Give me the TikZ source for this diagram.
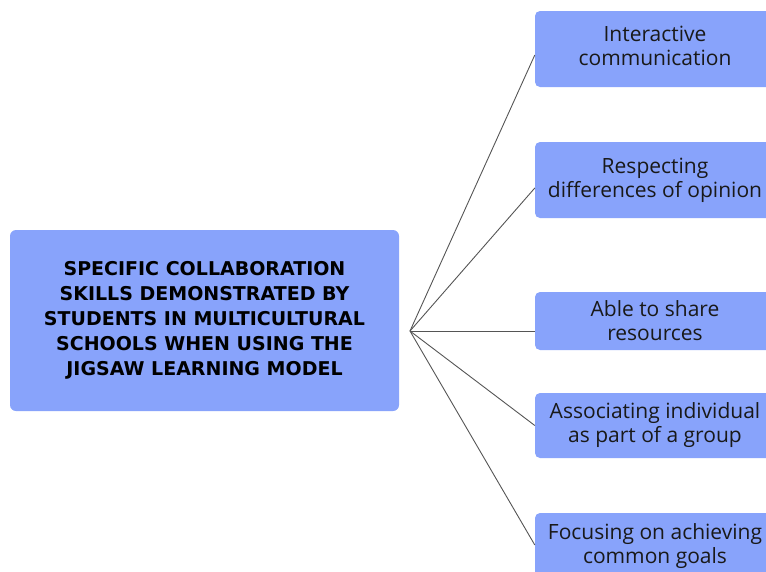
\documentclass[tikz,border=0pt]{standalone}
\usepackage{fontspec}
\setmainfont{Open Sans}
\newfontfamily\titlefont{DejaVu Sans}
\definecolor{boxblue}{HTML}{88A3FB}
\definecolor{linegray}{HTML}{555555}
\begin{document}
\begin{tikzpicture}[x=1pt,y=-1pt,
  skillbox/.style={fill=boxblue, rounded corners=5pt, inner sep=0pt,
    minimum width=240pt, align=center, font=\fontsize{21}{24}\selectfont, text=black!90},
  mainbox/.style={fill=boxblue, rounded corners=6pt, inner sep=0pt,
    minimum width=389pt, minimum height=181pt, align=center,
    font=\titlefont\fontsize{19}{25}\selectfont\bfseries, text=black},
  conn/.style={draw=linegray, line width=0.9pt}]
\useasboundingbox (0,0) rectangle (766,571);
\clip (0,0) rectangle (766,571);
\node[mainbox] (main) at (204.5,320.5) {SPECIFIC COLLABORATION\\SKILLS DEMONSTRATED BY\\STUDENTS IN MULTICULTURAL\\SCHOOLS WHEN USING THE\\JIGSAW LEARNING MODEL};
\coordinate (hub) at (410,331);
\node[skillbox, minimum height=76pt] (b1) at (655,49) {\raisebox{7pt}{\begin{tabular}{@{}c@{}}Interactive\\communication\end{tabular}}};
\node[skillbox, minimum height=76pt] (b2) at (655,180) {Respecting\\differences of opinion};
\node[skillbox, minimum height=58pt] (b3) at (655,321) {Able to share\\resources};
\node[skillbox, minimum height=65pt] (b4) at (655,425.5) {Associating individual\\as part of a group};
\node[skillbox, minimum height=66pt] (b5) at (655,546) {Focusing on achieving\\common goals};
\draw[conn] (hub) -- ([yshift=-6pt]b1.west);
\draw[conn] (hub) -- ([yshift=-8pt]b2.west);
\draw[conn] (hub) -- ([yshift=-10pt]b3.west);
\draw[conn] (hub) -- (b4.west);
\draw[conn] (hub) -- ([yshift=1pt]b5.west);
\end{tikzpicture}
\end{document}
